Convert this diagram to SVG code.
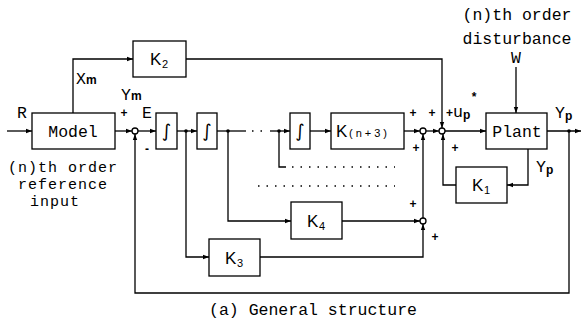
<svg xmlns="http://www.w3.org/2000/svg" width="581" height="322" viewBox="0 0 581 322">
<style>
.b{fill:#fff;stroke:#000;stroke-width:1.3}
.l{fill:none;stroke:#000;stroke-width:1.3}
.d{fill:none;stroke:#000;stroke-width:1.3;stroke-dasharray:1.5 7}
.c{fill:#fff;stroke:#000;stroke-width:1.3}
.t{font-family:"Liberation Mono","DejaVu Sans Mono",monospace;font-size:16.5px;fill:#000}
.m{font-family:"Liberation Mono","DejaVu Sans Mono",monospace;font-size:15px;letter-spacing:1px;fill:#000}
.k{font-family:"Liberation Sans","DejaVu Sans",sans-serif;font-size:17px;fill:#000}
.s{font-family:"Liberation Sans","DejaVu Sans",sans-serif;font-size:11px;fill:#000}
.p{font-family:"Liberation Sans","DejaVu Sans",sans-serif;font-size:12px;font-weight:bold;fill:#000}
.i{font-family:"DejaVu Sans",sans-serif;font-size:18px;fill:#000}
</style>
<defs>
<marker id="a" viewBox="0 0 6 6" refX="6" refY="3" markerWidth="6" markerHeight="6" markerUnits="userSpaceOnUse" orient="auto">
<path d="M0,0.8 L6,3 L0,5.2 z" fill="#000"/>
</marker>
</defs>

<g id="connectors">
<path class="l" d="M7,131 H32" marker-end="url(#a)"/>
<path class="l" d="M73,113 V59 H133" marker-end="url(#a)"/>
<path class="l" d="M186,59 H442 V128" marker-end="url(#a)"/>
<path class="l" d="M115,131 H132" marker-end="url(#a)"/>
<path class="l" d="M138,131 H156" marker-end="url(#a)"/>
<path class="l" d="M177,131 H197" marker-end="url(#a)"/>
<path class="l" d="M186,131 V257 H209" marker-end="url(#a)"/>
<path class="l" d="M217,131 H246"/>
<path class="l" d="M228,131 V221 H291" marker-end="url(#a)"/>
<path class="d" d="M252,131 H268"/>
<path class="l" d="M270,131 H290" marker-end="url(#a)"/>
<path class="l" d="M279,131 V167 H286"/>
<path class="d" d="M292,167 H395"/>
<path class="d" d="M258,186 H395"/>
<path class="l" d="M310,131 H331" marker-end="url(#a)"/>
<path class="l" d="M404,131 H420" marker-end="url(#a)"/>
<path class="l" d="M426,131 H439" marker-end="url(#a)"/>
<path class="l" d="M445,131 H486" marker-end="url(#a)"/>
<path class="l" d="M423,218 V134" marker-end="url(#a)"/>
<path class="l" d="M342,221 H420" marker-end="url(#a)"/>
<path class="l" d="M260,257 H423 V224" marker-end="url(#a)"/>
<path class="l" d="M547,131 H581" marker-end="url(#a)"/>
<path class="l" d="M516,67 V113" marker-end="url(#a)"/>
<path class="l" d="M528,149 V185 H507" marker-end="url(#a)"/>
<path class="l" d="M456,185 H443 V134" marker-end="url(#a)"/>
<path class="l" d="M569,131 V293 H135 V134" marker-end="url(#a)"/>
<circle cx="186" cy="131" r="1.8" fill="#000"/>
<circle cx="228" cy="131" r="1.8" fill="#000"/>
<circle cx="279" cy="131" r="1.8" fill="#000"/>
<circle cx="569" cy="131" r="1.8" fill="#000"/>
</g>

<g id="sum1"><circle class="c" cx="135" cy="131" r="3"/></g>
<g id="sum2"><circle class="c" cx="423" cy="131" r="3"/></g>
<g id="sum3"><circle class="c" cx="442" cy="131" r="3"/></g>
<g id="sum4"><circle class="c" cx="423" cy="221" r="3"/></g>

<g id="model">
<rect class="b" x="32" y="113" width="83" height="36"/>
<text class="t" x="73" y="137" text-anchor="middle">Model</text>
</g>
<g id="k2">
<rect class="b" x="133" y="41" width="53" height="36"/>
<text class="k" x="150" y="65">K</text><text class="s" x="162" y="68">2</text>
</g>
<g id="int1">
<rect class="b" x="156" y="113" width="21" height="36"/>
<text class="i" x="166.5" y="137" text-anchor="middle">∫</text>
</g>
<g id="int2">
<rect class="b" x="197" y="113" width="20" height="36"/>
<text class="i" x="207" y="137" text-anchor="middle">∫</text>
</g>
<g id="intn">
<rect class="b" x="290" y="113" width="20" height="36"/>
<text class="i" x="300" y="137" text-anchor="middle">∫</text>
</g>
<g id="kn3">
<rect class="b" x="331" y="113" width="73" height="36"/>
<text class="k" x="336" y="137">K</text><text class="s" x="349" y="137" letter-spacing="3">(n+3)</text>
</g>
<g id="plant">
<rect class="b" x="486" y="113" width="61" height="36"/>
<text class="t" x="517" y="137" text-anchor="middle">Plant</text>
</g>
<g id="k1">
<rect class="b" x="456" y="167" width="51" height="36"/>
<text class="k" x="472" y="191">K</text><text class="s" x="484" y="194">1</text>
</g>
<g id="k4">
<rect class="b" x="291" y="202" width="51" height="37"/>
<text class="k" x="307" y="227">K</text><text class="s" x="319" y="230">4</text>
</g>
<g id="k3">
<rect class="b" x="209" y="239" width="51" height="37"/>
<text class="k" x="225" y="264">K</text><text class="s" x="237" y="267">3</text>
</g>

<g id="labels">
<text class="t" x="17" y="118">R</text>
<text class="t" x="76" y="84">X<tspan class="p" font-size="11">m</tspan></text>
<text class="t" x="121" y="100">Y<tspan class="p" font-size="11">m</tspan></text>
<text class="p" x="124" y="117" text-anchor="middle">+</text>
<text class="t" x="142" y="118">E</text>
<text class="p" x="147" y="153" text-anchor="middle">-</text>
<text class="p" x="413" y="117" text-anchor="middle">+</text>
<text class="p" x="432" y="117" text-anchor="middle">+</text>
<text class="p" x="416" y="152" text-anchor="middle">+</text>
<text class="p" x="455" y="152" text-anchor="middle">+</text>
<text class="p" x="413" y="208" text-anchor="middle">+</text>
<text class="p" x="435" y="241" text-anchor="middle">+</text>
<text class="p" x="474" y="101" text-anchor="middle">*</text>
<text class="t" x="446" y="117"><tspan class="p">+</tspan>u<tspan class="p" font-size="11" dy="2">p</tspan></text>
<text class="t" x="555" y="118">Y<tspan class="p" font-size="11" dy="2">p</tspan></text>
<text class="t" x="536" y="172">Y<tspan class="p" font-size="11" dy="2">p</tspan></text>
<text class="t" x="517" y="20" text-anchor="middle">(n)th order</text>
<text class="t" x="517" y="44" text-anchor="middle">disturbance</text>
<text class="t" x="516" y="63" text-anchor="middle">W</text>
<text class="m" x="63" y="172" text-anchor="middle">(n)th order</text>
<text class="m" x="63" y="189" text-anchor="middle">reference</text>
<text class="m" x="55" y="206" text-anchor="middle">input</text>
<text class="t" x="313" y="315" text-anchor="middle">(a) General structure</text>
</g>
</svg>
